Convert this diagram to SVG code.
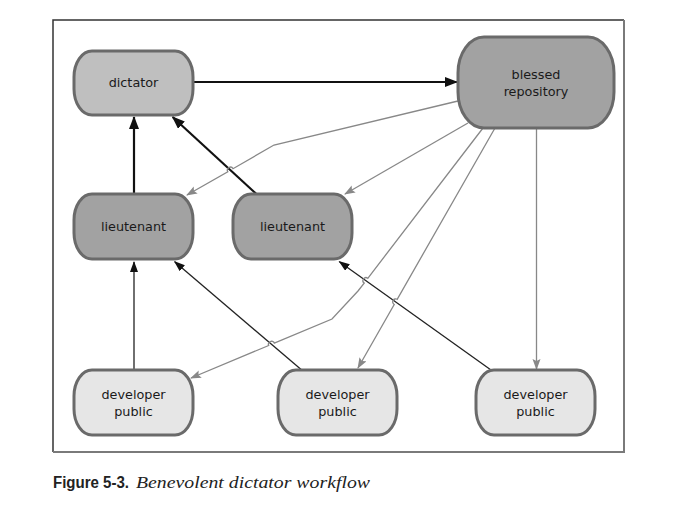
<svg xmlns="http://www.w3.org/2000/svg" width="695" height="517" viewBox="0 0 695 517">
<defs>
<style>
.node{stroke:#6a6a6a;stroke-width:3}
.n-dict{fill:#bfbfbf}
.n-dark{fill:#a2a2a2}
.n-dev{fill:#e6e6e6}
.lbl{font-family:"DejaVu Sans",sans-serif;font-size:12.8px;fill:#1a1a1a;text-anchor:middle}
.thick{stroke:#111;stroke-width:2.2;fill:none}
.thin{stroke:#222;stroke-width:1.3;fill:none}
.gray{stroke:#888;stroke-width:1.3;fill:none}
</style>
<marker id="ab" markerUnits="userSpaceOnUse" markerWidth="14" markerHeight="11" refX="12" refY="5" orient="auto">
<path d="M0,0 L13,5 L0,10 z" fill="#111"/>
</marker>
<marker id="at" markerUnits="userSpaceOnUse" markerWidth="12" markerHeight="9" refX="10" refY="4" orient="auto">
<path d="M0,0 L11,4 L0,8 z" fill="#111"/>
</marker>
<marker id="ag" markerUnits="userSpaceOnUse" markerWidth="12" markerHeight="9" refX="10" refY="4" orient="auto">
<path d="M0,0 L11,4 L0,8 L2,4 z" fill="#888"/>
</marker>
</defs>
<rect width="695" height="517" fill="#fff"/>
<path d="M53,452 L53,20 L624,20" fill="none" stroke="#333" stroke-width="1.5"/>
<path d="M624,20 L624,452 L53,452" fill="none" stroke="#7a7a7a" stroke-width="2"/>

<g id="connectors">
<path class="thick" d="M193,82 L457,82" marker-end="url(#ab)"/>
<path class="thick" d="M134,194 L134,117" marker-end="url(#ab)"/>
<path class="thick" d="M256.4,194 L172.6,117" marker-end="url(#ab)"/>
<path class="thin" d="M134,370 L134,262" marker-end="url(#at)"/>
<path class="thin" d="M301.7,370 L174.7,261.7" marker-end="url(#at)"/>
<path class="thin" d="M491,370 L339.4,261.7" marker-end="url(#at)"/>
<path class="gray" d="M458,101 L274,145 L233,168.7 A3,3 0 0 0 227.8,171.7 L187,195" marker-end="url(#ag)"/>
<path class="gray" d="M468,123 L345,194" marker-end="url(#ag)"/>
<path class="gray" d="M483,128 L367.8,278.3 A3,3 0 0 0 364.2,283.1 L358,291 L332,319 L274.3,343.1 A3,3 0 0 0 268.7,345.5 L191,378" marker-end="url(#ag)"/>
<path class="gray" d="M495,128 L397.2,299.3 A3,3 0 0 0 394.2,304.5 L358,368" marker-end="url(#ag)"/>
<path class="gray" d="M536.5,128 L536.5,369" marker-end="url(#ag)"/>
</g>

<g id="dictator">
<rect class="node n-dict" x="74" y="51" width="119" height="64" rx="18" ry="26"/>
<text class="lbl" x="133.5" y="86.5">dictator</text>
</g>
<g id="blessed-repository">
<rect class="node n-dark" x="458" y="37" width="156" height="91" rx="26" ry="36"/>
<text class="lbl" x="536" y="79">blessed</text>
<text class="lbl" x="536" y="96">repository</text>
</g>
<g id="lieutenant-1">
<rect class="node n-dark" x="74" y="194" width="119" height="65" rx="18" ry="26"/>
<text class="lbl" x="133.5" y="231">lieutenant</text>
</g>
<g id="lieutenant-2">
<rect class="node n-dark" x="233" y="194" width="119" height="65" rx="18" ry="26"/>
<text class="lbl" x="292.5" y="231">lieutenant</text>
</g>
<g id="developer-1">
<rect class="node n-dev" x="74" y="370" width="119" height="65" rx="18" ry="26"/>
<text class="lbl" x="133.5" y="398.5">developer</text>
<text class="lbl" x="133.5" y="415.5">public</text>
</g>
<g id="developer-2">
<rect class="node n-dev" x="278" y="370" width="119" height="65" rx="18" ry="26"/>
<text class="lbl" x="337.5" y="398.5">developer</text>
<text class="lbl" x="337.5" y="415.5">public</text>
</g>
<g id="developer-3">
<rect class="node n-dev" x="476" y="370" width="119" height="65" rx="18" ry="26"/>
<text class="lbl" x="535.5" y="398.5">developer</text>
<text class="lbl" x="535.5" y="415.5">public</text>
</g>

<g id="caption">
<text x="53" y="487.5" font-family="'Liberation Sans',Arial,sans-serif" font-weight="bold" font-size="16" fill="#222" textLength="76" lengthAdjust="spacingAndGlyphs">Figure 5-3.</text>
<text x="136" y="487.5" font-family="'Liberation Serif','Times New Roman',serif" font-style="italic" font-size="17" fill="#222" textLength="234" lengthAdjust="spacingAndGlyphs">Benevolent dictator workflow</text>
</g>
</svg>
